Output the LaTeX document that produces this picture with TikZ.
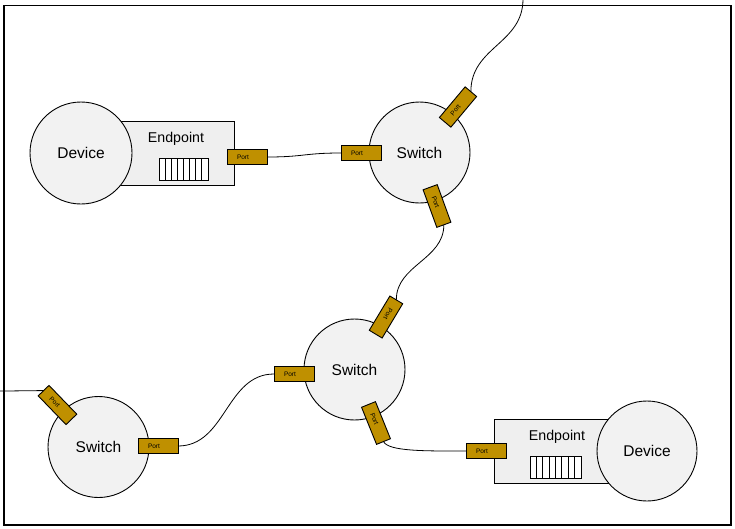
\documentclass[tikz,border=0pt]{standalone}
\usepackage{fontspec}
\setmainfont{Liberation Sans}
\usetikzlibrary{calc}
\definecolor{portc}{HTML}{BF9000}
\definecolor{cfill}{HTML}{F2F2F2}
\definecolor{rfill}{HTML}{EFEFEF}
\newcommand{\porttext}{Port\kern8pt\relax}
\begin{document}
\begin{tikzpicture}[x=1pt,y=-1pt,
  every node/.style={inner sep=0pt, outer sep=0pt},
  roundbox/.style={circle, draw, line width=0.9pt, fill=cfill, minimum size=101pt, font=\fontsize{15.5}{18}\selectfont},
  portbox/.style={rectangle, draw, line width=0.9pt, fill=portc, minimum width=40pt, minimum height=15pt, font=\fontsize{6.5}{8}\selectfont},
  endbox/.style={rectangle, draw, line width=0.9pt, fill=rfill, minimum width=114pt, minimum height=64pt},
  queuebox/.style={rectangle, draw, line width=0.8pt, fill=white, minimum width=49pt, minimum height=22pt},
  lbl/.style={font=\fontsize{14.2}{17}\selectfont},
  cable/.style={line width=0.8pt}]
\useasboundingbox (0,0) rectangle (735,528);
\draw[line width=1.2pt] (4,5.5) rectangle (731,525);

% endpoints
\node[endbox] (ept1) at (177,153) {};
\node[lbl] (eptl1) at (176,139) {Endpoint};
\node[queuebox] (q1) at (183.5,169) {};
\foreach \i in {1,...,7} \draw[line width=0.8pt] ($(q1.north west)+(\i*49/8,0)$) -- ($(q1.south west)+(\i*49/8,0)$);

\node[endbox] (ept2) at (551,451) {};
\node[lbl] (eptl2) at (557,437) {Endpoint};
\node[queuebox, minimum width=51pt] (q2) at (555.5,467) {};
\foreach \i in {1,...,7} \draw[line width=0.8pt] ($(q2.north west)+(\i*51/8,0)$) -- ($(q2.south west)+(\i*51/8,0)$);

% devices and switches
\node[roundbox, minimum size=102pt] (dev1) at (81,153) {Device};
\node[roundbox, minimum size=100pt] (dev2) at (647,451) {Device};
\node[roundbox] (sw1) at (419.5,152.5) {Switch};
\node[roundbox] (sw2) at (354.5,369.5) {Switch};
\node[roundbox] (sw3) at (98.5,447) {Switch};

% ports
\node[portbox] (ep1) at (247,157) {\porttext};
\node[portbox] (ep2) at (486,451) {\porttext};
\node[portbox, rotate=50] (tp1) at (458,107) {\porttext};
\node[portbox] (tp2) at (361,153) {\porttext};
\node[portbox, rotate=-70] (tp3) at (437,206) {\porttext};
\node[portbox, rotate=-121] (mp1) at (386,317) {\porttext};
\node[portbox] (mp2) at (294,374) {\porttext};
\node[portbox, rotate=-68] (mp3) at (376,423) {\porttext};
\node[portbox, rotate=-46] (bp1) at (57.5,405) {\porttext};
\node[portbox] (bp2) at (158,446) {\porttext};

\coordinate (topexit) at (523,-1);
\coordinate (leftexit) at (-1,391);

% cables
\draw[cable] (ep1.east) .. controls +(37,0) and +(-37,0) .. (tp2.west);
\draw[cable] (tp1.east) .. controls +(0,-45) and +(0,45) .. (topexit);
\draw[cable] (tp3.east) .. controls +(0,35) and +(0,-35) .. (mp1.west);
\draw[cable] (mp2.west) .. controls +(-48,0) and +(48,0) .. (bp2.east);
\draw[cable] (mp3.east) .. controls +(5,10) and +(-40,0) .. (ep2.west);
\draw[cable] (bp1.west) .. controls +(-15,0) and +(15,0) .. (leftexit);
\end{tikzpicture}
\end{document}
